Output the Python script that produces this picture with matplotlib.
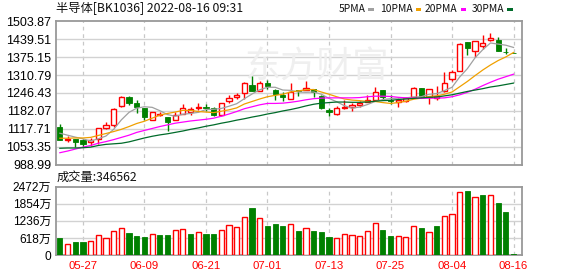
import numpy as np
import matplotlib
matplotlib.use("Agg")
import matplotlib.pyplot as plt
from matplotlib.patches import Rectangle

# ---- data (index 0 = 2022-05-24, last = 2022-08-16) ----
dates = ["05-24", "05-25", "05-26", "05-27", "05-30", "05-31", "06-01", "06-02",
         "06-06", "06-07", "06-08", "06-09", "06-10", "06-13", "06-14", "06-15",
         "06-16", "06-17", "06-20", "06-21", "06-22", "06-23", "06-24", "06-27",
         "06-28", "06-29", "06-30", "07-01", "07-04", "07-05", "07-06", "07-07",
         "07-08", "07-11", "07-12", "07-13", "07-14", "07-15", "07-18", "07-19",
         "07-20", "07-21", "07-22", "07-25", "07-26", "07-27", "07-28", "07-29",
         "08-01", "08-02", "08-03", "08-04", "08-05", "08-08", "08-09", "08-10",
         "08-11", "08-12", "08-15", "08-16"]
tick_labels = ["05-27", "06-09", "06-21", "07-01", "07-13", "07-25", "08-04", "08-16"]

opens = [1126, 1077, 1081, 1076, 1070, 1082, 1119, 1130, 1198, 1231,
         1210, 1192, 1150, 1168, 1160, 1148, 1171, 1179, 1193, 1195,
         1192, 1166, 1219, 1231, 1246, 1276, 1255, 1282, 1257, 1241,
         1226, 1258, 1258, 1261, 1234, 1185, 1172, 1191, 1196, 1204,
         1214, 1220, 1257, 1223, 1215, 1218, 1233, 1264, 1231, 1227,
         1255, 1298, 1326, 1429, 1399, 1414, 1435, 1435, 1394, 1391]
closes = [1078, 1080, 1070, 1063, 1077, 1121, 1131, 1189, 1231, 1212,
          1196, 1159, 1177, 1172, 1143, 1166, 1192, 1190, 1195, 1193,
          1168, 1209, 1228, 1241, 1282, 1255, 1282, 1273, 1244, 1231,
          1250, 1252, 1266, 1250, 1191, 1177, 1192, 1197, 1203, 1209,
          1222, 1250, 1232, 1216, 1220, 1228, 1264, 1237, 1259, 1234,
          1281, 1322, 1422, 1409, 1432, 1425, 1444, 1398, 1392, 1390]
highs = [1135, 1091, 1082, 1081, 1085, 1121, 1142, 1192, 1234, 1235,
         1221, 1193, 1178, 1180, 1161, 1180, 1207, 1196, 1210, 1206,
         1197, 1210, 1240, 1245, 1285, 1307, 1288, 1293, 1261, 1250,
         1282, 1258, 1289, 1262, 1240, 1192, 1198, 1222, 1209, 1216,
         1238, 1267, 1258, 1238, 1227, 1231, 1268, 1264, 1259, 1270,
         1322, 1329, 1426, 1429, 1432, 1456, 1462, 1446, 1408, 1391]
lows = [1076, 1070, 1052, 1052, 1055, 1063, 1116, 1125, 1196, 1202,
        1175, 1150, 1149, 1165, 1111, 1148, 1170, 1169, 1186, 1182,
        1164, 1165, 1209, 1225, 1225, 1254, 1252, 1261, 1220, 1219,
        1226, 1234, 1257, 1232, 1190, 1165, 1168, 1190, 1183, 1195,
        1213, 1216, 1224, 1208, 1197, 1214, 1231, 1228, 1208, 1222,
        1250, 1291, 1324, 1384, 1376, 1404, 1434, 1398, 1387, 1389]

ma5 = [1102, 1095, 1088, 1082, 1074, 1082, 1092, 1116, 1150, 1177,
       1192, 1197, 1195, 1183, 1169, 1163, 1170, 1173, 1177, 1187,
       1188, 1191, 1199, 1208, 1226, 1243, 1258, 1267, 1267, 1257,
       1256, 1250, 1249, 1250, 1242, 1227, 1215, 1201, 1192, 1196,
       1205, 1216, 1223, 1226, 1228, 1229, 1232, 1233, 1242, 1244,
       1255, 1267, 1304, 1334, 1373, 1402, 1426, 1422, 1418, 1410]
ma10 = [1084, 1084, 1085, 1085, 1087, 1094, 1101, 1108, 1116, 1126,
        1137, 1145, 1156, 1167, 1173, 1178, 1184, 1184, 1180, 1178,
        1176, 1181, 1186, 1193, 1207, 1216, 1225, 1233, 1238, 1242,
        1250, 1254, 1258, 1259, 1250, 1242, 1233, 1225, 1221, 1219,
        1216, 1216, 1212, 1209, 1212, 1217, 1224, 1228, 1234, 1236,
        1242, 1250, 1269, 1288, 1309, 1329, 1347, 1363, 1376, 1392]
ma20 = [1032, 1038, 1045, 1052, 1058, 1066, 1072, 1079, 1087, 1095,
        1105, 1112, 1119, 1126, 1132, 1138, 1142, 1146, 1149, 1152,
        1156, 1163, 1171, 1180, 1190, 1197, 1204, 1209, 1209, 1210,
        1213, 1217, 1222, 1226, 1228, 1229, 1229, 1229, 1229, 1230,
        1233, 1235, 1235, 1234, 1231, 1229, 1228, 1227, 1228, 1228,
        1229, 1233, 1240, 1249, 1260, 1273, 1285, 1296, 1305, 1314]
ma30 = [1048, 1049, 1049, 1050, 1052, 1058, 1062, 1064, 1066, 1071,
        1078, 1085, 1091, 1096, 1100, 1105, 1110, 1116, 1121, 1127,
        1132, 1138, 1143, 1149, 1154, 1160, 1165, 1171, 1176, 1182,
        1187, 1193, 1200, 1206, 1210, 1212, 1214, 1214, 1213, 1213,
        1214, 1217, 1219, 1220, 1223, 1225, 1227, 1229, 1231, 1232,
        1236, 1240, 1246, 1252, 1257, 1262, 1268, 1272, 1277, 1282]

# volume in 万, and whether the bar is drawn red (up) or green (down)
volume = [628, 398, 483, 483, 519, 712, 616, 869, 966, 797,
          688, 652, 748, 724, 724, 905, 941, 760, 833, 760,
          760, 905, 1074, 1002, 1364, 1702, 1328, 1050, 1122, 1050,
          1110, 869, 966, 869, 833, 652, 604, 748, 712, 676,
          857, 1147, 905, 688, 676, 652, 1038, 978, 821, 1050,
          1400, 1473, 2293, 2305, 2088, 2173, 2161, 1883, 1557, 34.66]
vol_up = "grggrrrrrgggrggrrgrggrrrrgrgggrgrgggrrrrrrggrrrgrgrrrgrgrggg"

price_ticks = [988.99, 1053.35, 1117.71, 1182.07, 1246.43, 1310.79, 1375.15, 1439.51, 1503.87]
vol_ticks = [0, 618, 1236, 1854, 2472]
vol_tick_labels = ["0", "618万", "1236万", "1854万", "2472万"]

ma_names = ["5PMA", "10PMA", "20PMA", "30PMA"]
ma_colors = ["#a0a0a0", "#f0a000", "#ff00ff", "#006b2a"]

RED = "#ff0000"
GREEN = "#008000"
GRID = "#d2d2d2"
FRAME = "#999999"

cjk = ["Noto Sans CJK SC", "DejaVu Sans"]
num = ["Liberation Sans", "Noto Sans CJK SC"]

W, H = 578, 276
fig = plt.figure(figsize=(W / 100, H / 100), dpi=100)
fig.patch.set_facecolor("white")


def box(x0, y0, x1, y1):
    return [x0 / W, 1 - y1 / H, (x1 - x0) / W, (y1 - y0) / H]


ax = fig.add_axes(box(56, 21.3, 522, 164.7))
axv = fig.add_axes(box(56, 186.7, 522, 255))

n = len(closes)
x = np.arange(n)
tick_idx = [dates.index(d) for d in tick_labels]

for a in (ax, axv):
    a.set_xlim(-0.5, 60.1)
    for s in a.spines.values():
        s.set_color(FRAME)
        s.set_linewidth(1.3)
    for t in tick_idx:
        a.axvline(t, color="#c8c8c8", lw=0.9, ls=(0, (3, 3)), zorder=0)
    a.tick_params(length=0)

# ---- price panel ----
ax.set_ylim(price_ticks[0], price_ticks[-1])
ax.set_yticks(price_ticks)
ax.set_yticklabels([f"{v:.2f}" for v in price_ticks], fontsize=9, family=num)
ax.set_xticks([])
for v in price_ticks[1:-1]:
    ax.axhline(v, color=GRID, lw=1.0, zorder=0)

# faint site watermark
ax.text(0.56, 0.68, "东方财富", transform=ax.transAxes, ha="center", va="center",
        fontsize=26, color="#efefef", family=cjk, zorder=0)

w = 0.68
for i in range(n):
    o, c, hi, lo = opens[i], closes[i], highs[i], lows[i]
    up = c >= o
    col = RED if up else GREEN
    ax.vlines(i, lo, hi, color=col, lw=1.0, zorder=2)
    bottom = min(o, c)
    height = max(abs(c - o), 1.5)
    if up:
        ax.bar(i, height, w, bottom=bottom, facecolor="white", edgecolor=col,
               linewidth=1.0, zorder=3)
    else:
        ax.bar(i, height, w, bottom=bottom, facecolor=col, edgecolor=col,
               linewidth=0.6, zorder=3)

for vals, col in zip([ma5, ma10, ma20, ma30], ma_colors):
    ax.plot(x, vals, color=col, lw=0.9, zorder=4)

# ---- volume panel ----
axv.set_ylim(0, vol_ticks[-1])
axv.set_yticks(vol_ticks)
axv.set_yticklabels(vol_tick_labels, fontsize=8.6, family=num)
for v in vol_ticks[1:-1]:
    axv.axhline(v, color=GRID, lw=1.0, zorder=0)
for i in range(n):
    if vol_up[i] == "r":
        axv.bar(i, volume[i], w, facecolor="white", edgecolor=RED, linewidth=1.0, zorder=3)
    else:
        axv.bar(i, volume[i], w, facecolor=GREEN, edgecolor=GREEN, linewidth=0.6, zorder=3)
axv.set_xticks(tick_idx)
axv.set_xticklabels(tick_labels, fontsize=8.2, color=RED, family=num)
axv.tick_params(axis="x", pad=4)

# ---- header texts ----
fig.text(56 / W, 1 - 9 / H, "半导体[BK1036] 2022-08-16 09:31", ha="left", va="center",
         fontsize=8.8, family=cjk, color="#111111")
fig.text(57 / W, 1 - 177 / H, "成交量:346562", ha="left", va="center",
         fontsize=8.8, family=cjk, color="#111111")

leg_text_x = [338.3, 380, 425, 471.7]
renderer = fig.canvas.get_renderer()
for name, col, tx in zip(ma_names, ma_colors, leg_text_x):
    t = fig.text(tx / W, 1 - 9 / H, name, ha="left", va="center", fontsize=7.4,
                 family=cjk, color="#111111")
    x_end = t.get_window_extent(renderer).x1
    fig.patches.append(Rectangle(((x_end + 3) / W, 1 - 11 / H), 5.5 / W, 3 / H,
                                 transform=fig.transFigure, facecolor=col,
                                 edgecolor="none"))

fig.savefig("out.png", dpi=100)
